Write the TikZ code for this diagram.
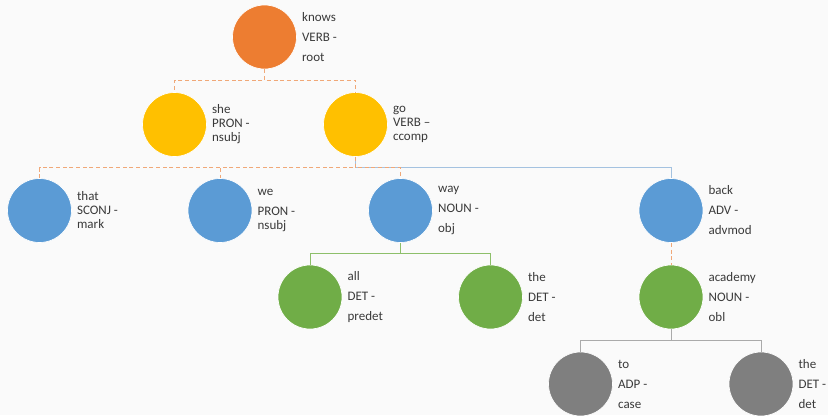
\documentclass[tikz,border=0pt]{standalone}
\usepackage{fontspec}
\setmainfont{Carlito}
\usepackage{tikz}
\usetikzlibrary{positioning,backgrounds}

\definecolor{cRoot}{HTML}{ED7D31}
\definecolor{cVerb}{HTML}{FFC000}
\definecolor{cDep}{HTML}{5B9BD5}
\definecolor{cMod}{HTML}{70AD47}
\definecolor{cLeaf}{HTML}{7F7F7F}
\definecolor{cDash}{HTML}{F0A878}
\definecolor{cBlueLine}{HTML}{A4C2E0}
\definecolor{cGreenLine}{HTML}{8DBF6A}
\definecolor{cGrayLine}{HTML}{AAAAAA}
\definecolor{cText}{HTML}{3A3A3A}
\definecolor{cBack}{HTML}{FAFAFA}

\begin{document}
\begin{tikzpicture}[x=0.75pt, y=-0.75pt]
		\tikzstyle{Word} 	= [circle, draw=white, line width=0.5pt, minimum size=48pt, inner sep=0pt]
		\tikzstyle{Label}	= [align=left, inner sep=0pt, text=cText, font=\fontsize{9.75}{15}\selectfont]
		\tikzstyle{Tight}	= [font=\fontsize{9.75}{10.5}\selectfont]
		\tikzstyle{Dash}	= [cDash, line width=0.75pt, dash pattern=on 3pt off 2pt]
		\tikzstyle{BL}		= [cBlueLine, line width=0.75pt]
		\tikzstyle{GL}		= [cGreenLine, line width=0.75pt]
		\tikzstyle{GR}		= [cGrayLine, line width=0.75pt]

		\fill [cBack] (0,0) rectangle (828,415);
		\useasboundingbox (0,0) rectangle (828,415);

		\node (knows) at (264.5, 37) [Word][fill=cRoot] {};
		\node (she) at (174.5, 124.5) [Word][fill=cVerb] {};
		\node (go) at (355.5, 124.5) [Word][fill=cVerb] {};
		\node (that) at (39.5, 210.5) [Word][fill=cDep] {};
		\node (we) at (220, 210.5) [Word][fill=cDep] {};
		\node (way) at (400.5, 210.5) [Word][fill=cDep] {};
		\node (back) at (671, 210.5) [Word][fill=cDep] {};
		\node (all) at (310, 297) [Word][fill=cMod] {};
		\node (the) at (490.5, 297) [Word][fill=cMod] {};
		\node (academy) at (671, 297) [Word][fill=cMod] {};
		\node (to) at (580.5, 384) [Word][fill=cLeaf] {};
		\node (theb) at (761, 384) [Word][fill=cLeaf] {};

		\node (lknows) [Label, right=3.75pt of knows] {knows\\VERB -\\root};
		\node (lshe) [Label, Tight, right=3.75pt of she] {she\\PRON -\\nsubj};
		\node (lgo) [Label, Tight, right=3.75pt of go] {go\\VERB --\\ccomp};
		\node (lthat) [Label, Tight, right=3.75pt of that] {that\\SCONJ -\\mark};
		\node (lwe) [Label, Tight, right=3.75pt of we] {we\\[4.5pt]PRON -\\nsubj};
		\node (lway) [Label, right=3.75pt of way] {way\\NOUN -\\obj};
		\node (lback) [Label, right=3.75pt of back] {back\\ADV -\\advmod};
		\node (lall) [Label, right=3.75pt of all] {all\\DET -\\predet};
		\node (lthe) [Label, right=3.75pt of the] {the\\DET -\\det};
		\node (lacademy) [Label, right=3.75pt of academy] {academy\\NOUN -\\obl};
		\node (lto) [Label, right=3.75pt of to] {to\\ADP -\\case};
		\node (ltheb) [Label, right=3.75pt of theb] {the\\DET -\\det};

		\draw (knows.south) -- ++(0,11) -| (she.north) [Dash];
		\draw (knows.south) -- ++(0,11) -| (go.north) [Dash];
		\draw (go.south) -- ++(0,11) -| (back.north) [BL];
		\draw (go.south) -- ++(0,11) -| (that.north) [Dash];
		\draw (go.south) -- ++(0,11) -| (we.north) [Dash];
		\draw (go.south) -- ++(0,11) -| (way.north) [Dash];
		\draw (way.south) -- ++(0,11) -| (all.north) [GL];
		\draw (way.south) -- ++(0,11) -| (the.north) [GL];
		\draw (back.south) -- (academy.north) [Dash];
		\draw (academy.south) -- ++(0,11) -| (to.north) [GR];
		\draw (academy.south) -- ++(0,11) -| (theb.north) [GR];
	\end{tikzpicture}
\end{document}
